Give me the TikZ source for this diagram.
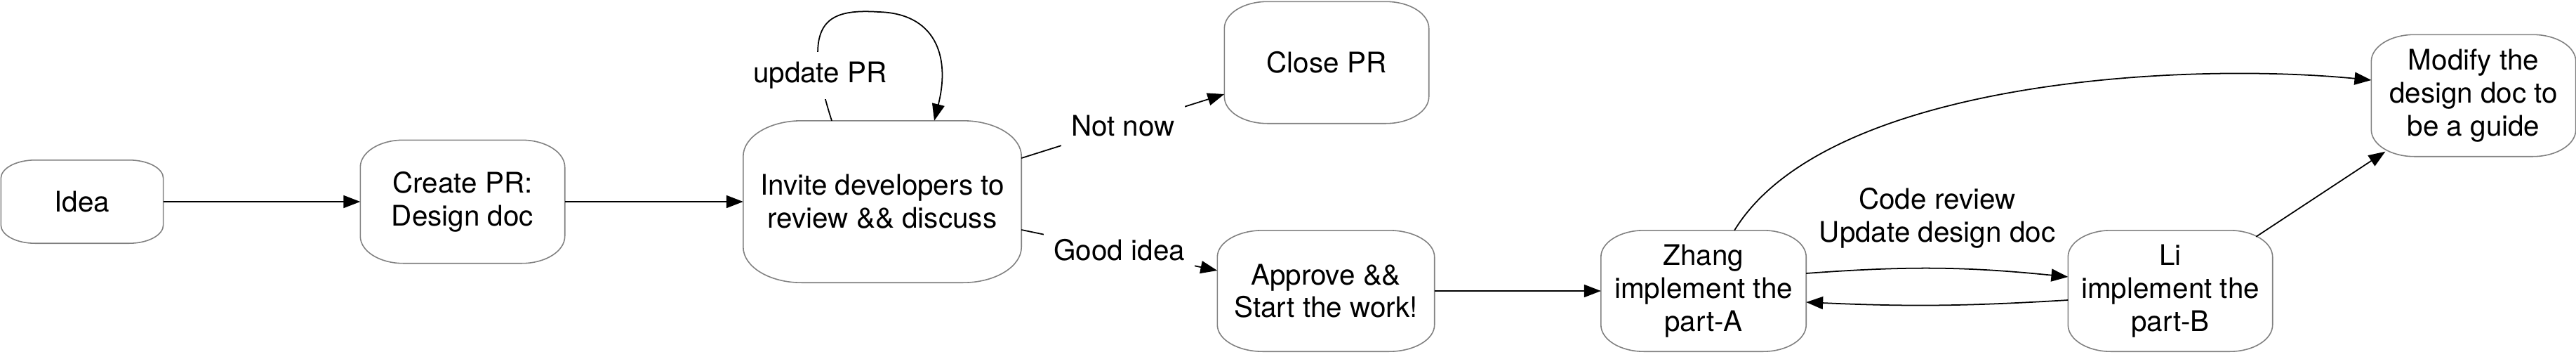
\documentclass[tikz,border=0pt]{standalone}
\usepackage{fontspec}
\setmainfont{TeX Gyre Heros}
\usetikzlibrary{arrows.meta,calc}

\tikzset{
  stepbox/.style={minimum width=2.9cm, minimum height=1.72cm, align=center, inner sep=0pt,
    font=\fontsize{11.5}{13.3}\selectfont},
  boxline/.style={draw=black!50, line width=0.45pt},
  arr/.style={-{Triangle[length=6.8pt,width=5.1pt]}, line width=0.5pt},
  lbl/.style={fill=white, inner sep=4pt, align=center, font=\fontsize{11.5}{13.3}\selectfont},
}

\begin{document}
\begin{tikzpicture}
\useasboundingbox (0,0) rectangle (36.7,5.07);
%
\node[stepbox, minimum width=2.3cm, minimum height=1.17cm] (idea) at (1.17,2.20) {Idea};
\node[stepbox, minimum height=1.74cm] (create) at (6.59,2.20) {Create PR:\\Design doc};
\node[stepbox, minimum width=3.95cm, minimum height=2.29cm] (invite) at (12.57,2.20) {Invite developers to\\review \&\& discuss};
\node[stepbox] (close) at (18.90,4.18) {Close PR};
\node[stepbox, minimum width=3.08cm, minimum height=1.71cm] (approve) at (18.89,0.93) {Approve \&\&\\Start the work!};
\node[stepbox, minimum width=2.91cm, minimum height=1.71cm] (zhang) at (24.27,0.93) {Zhang\\implement the\\part-A};
\node[stepbox, minimum height=1.71cm] (li) at (30.92,0.93) {Li\\implement the\\part-B};
\node[stepbox] (modify) at (35.24,3.71) {Modify the\\design doc to\\be a guide};
%
% outlines, corners grow with the box
\foreach \nm in {idea,create,invite,close,approve,zhang,li,modify}
  \draw[boxline] let \p1=(\nm.south west), \p2=(\nm.north east),
      \n1={0.21*(\x2-\x1)}, \n2={0.22*(\y2-\y1)} in
    (\x1,\y1+\n2) -- (\x1,\y2-\n2)
    arc[start angle=180, end angle=90, x radius=\n1, y radius=\n2]
    -- (\x2-\n1,\y2)
    arc[start angle=90, end angle=0, x radius=\n1, y radius=\n2]
    -- (\x2,\y1+\n2)
    arc[start angle=0, end angle=-90, x radius=\n1, y radius=\n2]
    -- (\x1+\n1,\y1)
    arc[start angle=270, end angle=180, x radius=\n1, y radius=\n2]
    -- cycle;
%
\draw[arr] (idea) -- (create);
\draw[arr] (create) -- (invite);
\draw[arr] ([xshift=-0.72cm]invite.north) .. controls (11.4,4.75) and (11.75,4.95) .. (12.52,4.9)
  node[lbl, pos=0.18] {update PR}
  .. controls (13.3,4.88) and (13.55,4.3) .. ([xshift=0.74cm]invite.north);
\draw[arr] ([yshift=0.62cm]invite.east) -- node[lbl] {Not now} ([yshift=-0.45cm]close.west);
\draw[arr] ([yshift=-0.4cm]invite.east) -- node[lbl] {Good idea} ([yshift=0.29cm]approve.west);
\draw[arr] (approve) -- (zhang);
\draw[arr] ([xshift=0.44cm]zhang.north) .. controls (26.0,3.9) and (31.0,4.2) .. ([yshift=0.22cm]modify.west);
\draw[arr] ([yshift=0.25cm]zhang.east) to[bend left=5]
  node[lbl, midway, above=4pt] {Code review\\Update design doc} ([yshift=0.2cm]li.west);
\draw[arr] ([yshift=-0.13cm]li.west) to[bend left=3] ([yshift=-0.16cm]zhang.east);
\draw[arr] ([xshift=-0.235cm,yshift=-0.09cm]li.north east) -- ([xshift=0.2cm,yshift=0.07cm]modify.south west);
\end{tikzpicture}
\end{document}
